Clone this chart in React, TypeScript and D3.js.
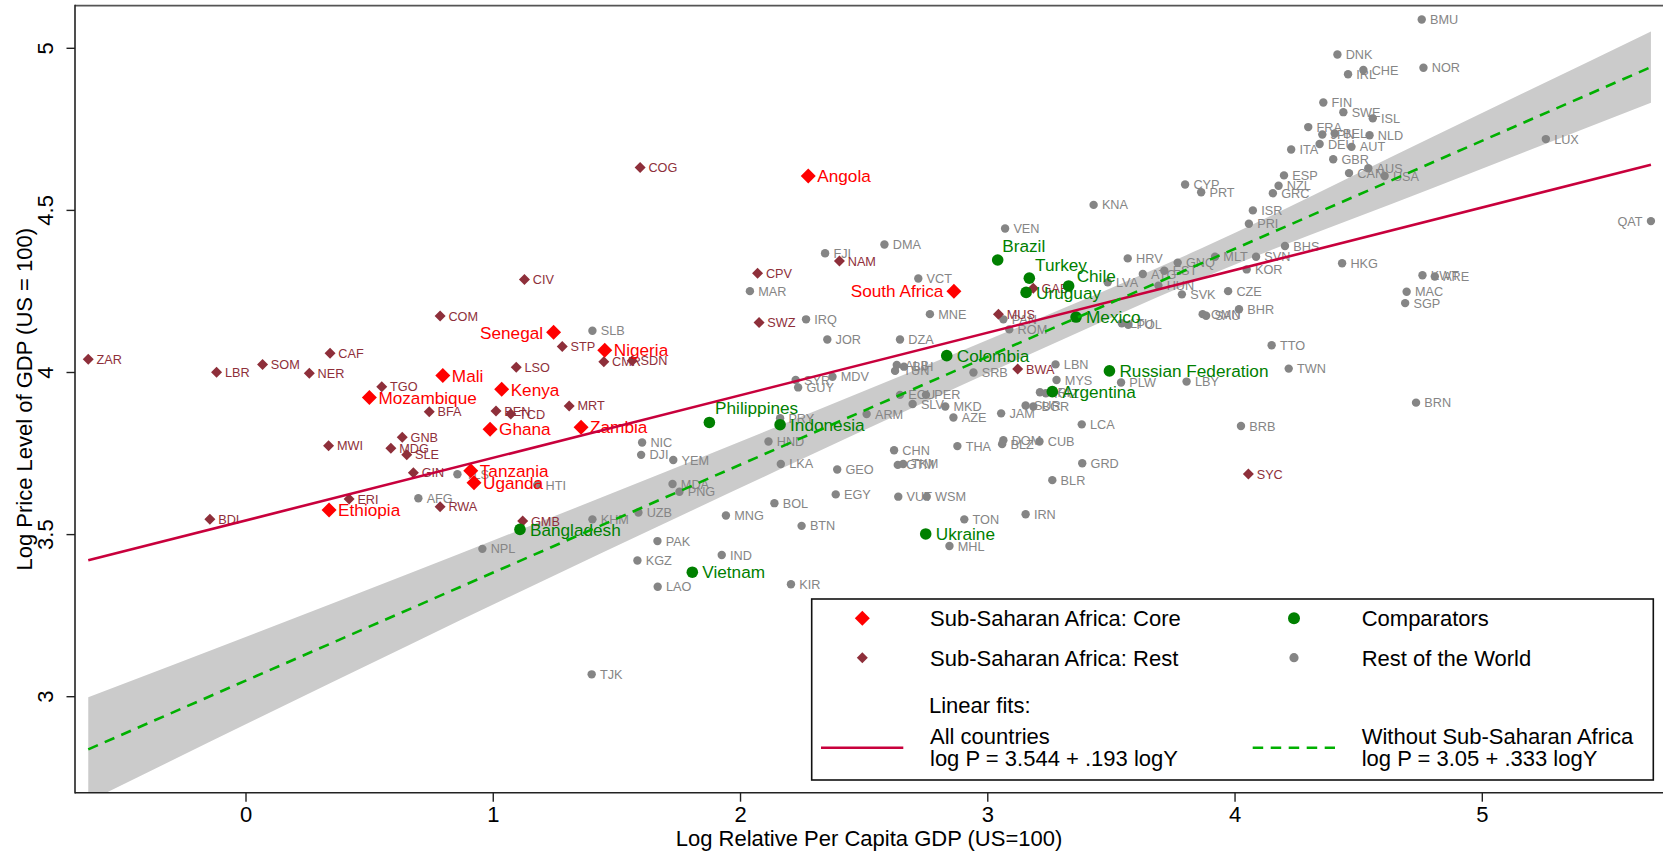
import React from "react";
import * as d3 from "d3";

// Sub-Saharan Africa: core countries (log relative GDP per capita, log price level)
const coreNames = ["Angola", "South Africa", "Senegal", "Nigeria", "Mali", "Kenya", "Mozambique", "Ghana", "Zambia", "Tanzania", "Uganda", "Ethiopia"];
const coreLogY = [2.274, 2.863, 1.244, 1.451, 0.796, 1.034, 0.499, 0.987, 1.355, 0.909, 0.922, 0.336];
const coreLogP = [4.606, 4.251, 4.124, 4.069, 3.991, 3.948, 3.923, 3.825, 3.831, 3.697, 3.66, 3.576];

// Sub-Saharan Africa: the rest
const ssaRestNames = ["ZAR", "LBR", "SOM", "NER", "CAF", "COM", "CIV", "COG", "CPV", "SWZ", "NAM", "GAB", "MUS", "BWA", "SYC", "STP", "CMR", "SDN", "LSO", "MRT", "TGO", "BFA", "BEN", "TCD", "GNB", "MDG", "SLE", "MWI", "GIN", "ERI", "RWA", "BDI", "GMB"];
const ssaRestLogY = [-0.638, -0.119, 0.067, 0.256, 0.34, 0.785, 1.126, 1.594, 2.069, 2.075, 2.4, 3.184, 3.043, 3.121, 4.054, 1.279, 1.447, 1.562, 1.093, 1.307, 0.549, 0.741, 1.011, 1.071, 0.632, 0.586, 0.65, 0.334, 0.677, 0.417, 0.785, -0.146, 1.119];
const ssaRestLogP = [4.041, 4.001, 4.025, 3.998, 4.059, 4.174, 4.287, 4.632, 4.306, 4.154, 4.344, 4.26, 4.18, 4.011, 3.687, 4.08, 4.033, 4.036, 4.016, 3.897, 3.956, 3.879, 3.881, 3.872, 3.8, 3.766, 3.746, 3.774, 3.691, 3.61, 3.586, 3.547, 3.542];

// Comparator countries
const compNames = ["Brazil", "Turkey", "Chile", "Uruguay", "Mexico", "Colombia", "Russian Federation", "Argentina", "Philippines", "Indonesia", "Bangladesh", "Ukraine", "Vietnam"];
const compLogY = [3.04, 3.168, 3.327, 3.155, 3.357, 2.834, 3.492, 3.261, 1.874, 2.16, 1.108, 2.749, 1.805];
const compLogP = [4.347, 4.291, 4.267, 4.247, 4.171, 4.052, 4.005, 3.941, 3.846, 3.839, 3.516, 3.502, 3.384];

// Rest of the world
const worldNames = ["BMU", "DNK", "CHE", "IRL", "NOR", "FIN", "SWE", "ISL", "FRA", "JPN", "BEL", "NLD", "DEU", "AUT", "ITA", "GBR", "AUS", "CAN", "USA", "ESP", "NZL", "GRC", "ISR", "PRI", "LUX", "QAT", "CYP", "PRT", "KNA", "VEN", "DMA", "FJI", "VCT", "BHS", "MLT", "SVN", "KOR", "HKG", "KWT", "ARE", "MAC", "SGP", "HRV", "GNQ", "ATG", "EST", "LVA", "HUN", "SVK", "CZE", "BHR", "OMN", "SAU", "LTU", "POL", "TTO", "TWN", "BRN", "BRB", "LBY", "PLW", "LBN", "MYS", "CRI", "KAZ", "SUR", "BGR", "LCA", "JAM", "AZE", "MKD", "SLV", "ECU", "PER", "ARM", "SRB", "ALB", "BIH", "TUN", "DZA", "JOR", "IRQ", "MNE", "PAN", "ROM", "MAR", "MDV", "SYR", "GUY", "PRY", "HND", "LKA", "NIC", "DJI", "YEM", "MDA", "PNG", "UZB", "KHM", "MNG", "BOL", "BTN", "GEO", "EGY", "CHN", "GTM", "TKM", "THA", "DOM", "BLZ", "CUB", "GRD", "BLR", "VUT", "WSM", "IRN", "TON", "MHL", "KIR", "PAK", "KGZ", "IND", "LAO", "NPL", "TJK", "SLB", "AFG", "HTI", "TLS"];
const worldLogY = [4.755, 4.414, 4.519, 4.457, 4.762, 4.357, 4.438, 4.557, 4.296, 4.353, 4.403, 4.544, 4.342, 4.471, 4.227, 4.397, 4.539, 4.461, 4.605, 4.198, 4.176, 4.153, 4.072, 4.056, 5.257, 5.682, 3.798, 3.863, 3.428, 3.07, 2.582, 2.342, 2.719, 4.202, 3.919, 4.085, 4.047, 4.433, 4.758, 4.808, 4.694, 4.688, 3.566, 3.768, 3.627, 3.714, 3.485, 3.69, 3.785, 3.972, 4.016, 3.869, 3.883, 3.542, 3.568, 4.148, 4.217, 4.732, 4.024, 3.804, 3.539, 3.274, 3.278, 3.211, 3.235, 3.153, 3.184, 3.38, 3.054, 2.861, 2.828, 2.696, 2.645, 2.75, 2.51, 2.942, 2.632, 2.661, 2.625, 2.645, 2.351, 2.265, 2.766, 3.063, 3.087, 2.038, 2.372, 2.223, 2.233, 2.16, 2.113, 2.163, 1.602, 1.598, 1.728, 1.725, 1.753, 1.587, 1.401, 1.941, 2.137, 2.247, 2.391, 2.385, 2.621, 2.636, 2.658, 2.877, 3.063, 3.058, 3.209, 3.382, 3.261, 2.638, 2.753, 3.153, 2.905, 2.845, 2.204, 1.664, 1.583, 1.924, 1.665, 0.956, 1.398, 1.401, 0.697, 1.178, 0.855];
const worldLogP = [5.089, 4.981, 4.933, 4.92, 4.94, 4.833, 4.803, 4.784, 4.757, 4.734, 4.737, 4.732, 4.705, 4.696, 4.688, 4.658, 4.63, 4.615, 4.606, 4.608, 4.576, 4.553, 4.5, 4.459, 4.72, 4.467, 4.58, 4.556, 4.517, 4.444, 4.395, 4.368, 4.29, 4.39, 4.357, 4.357, 4.318, 4.337, 4.3, 4.296, 4.249, 4.214, 4.352, 4.339, 4.304, 4.314, 4.278, 4.268, 4.241, 4.251, 4.195, 4.18, 4.175, 4.152, 4.147, 4.084, 4.012, 3.907, 3.835, 3.972, 3.969, 4.025, 3.977, 3.939, 3.936, 3.898, 3.895, 3.84, 3.874, 3.861, 3.895, 3.903, 3.931, 3.931, 3.872, 4.0, 4.023, 4.018, 4.005, 4.102, 4.102, 4.164, 4.18, 4.164, 4.133, 4.251, 3.987, 3.977, 3.954, 3.859, 3.787, 3.718, 3.784, 3.746, 3.73, 3.656, 3.632, 3.568, 3.547, 3.559, 3.597, 3.527, 3.701, 3.624, 3.76, 3.715, 3.718, 3.773, 3.791, 3.779, 3.787, 3.72, 3.668, 3.617, 3.617, 3.563, 3.547, 3.465, 3.347, 3.48, 3.42, 3.437, 3.339, 3.456, 3.069, 4.129, 3.612, 3.653, 3.686];

// Linear fits: all countries, and without Sub-Saharan Africa
const fitLabels = ["All countries", "Without Sub-Saharan Africa"];
const fitIntercepts = [3.544, 3.05];
const fitSlopes = [0.193, 0.333];

// Confidence band half-width around the fit without Sub-Saharan Africa
const ciLogY = [-0.638, 0.66, 2.24, 3.1, 3.86, 4.8, 5.682];
const ciHalfWidth = [0.161, 0.11, 0.066, 0.05, 0.046, 0.079, 0.11];

// Axis ticks
const xTicks = [0, 1, 2, 3, 4, 5];
const yTicks = [3, 3.5, 4, 4.5, 5];

const FONT = "'Liberation Sans', Arial, Helvetica, sans-serif";

const diamond = (h: number) => `M0,${-h}L${h},0L0,${h}L${-h},0Z`;

type Place = { dx: number; dy: number; anchor: "start" | "end" };
// Label placement for markers whose label is not to the right
const placement: Record<string, Place> = {
  Senegal: { dx: -10.5, dy: 6.2, anchor: "end" },
  "South Africa": { dx: -10.5, dy: 6.2, anchor: "end" },
  QAT: { dx: -8.3, dy: 4.6, anchor: "end" },
  Brazil: { dx: 4.6, dy: -7.7, anchor: "start" },
  Turkey: { dx: 5.7, dy: -7.3, anchor: "start" },
  Chile: { dx: 8, dy: -4.3, anchor: "start" },
  Philippines: { dx: 5.7, dy: -8.3, anchor: "start" },
};

const fmtCoef = (v: number) => String(v).replace(/^0\./, ".");

export default function App() {
  const W = 1663;
  const H = 855;
  const frame = { left: 75, right: 1663, top: 5.7, bottom: 792.7 };

  const x = d3.scaleLinear().domain([-0.6916, 5.7308]).range([frame.left, frame.right]);
  const y = d3.scaleLinear().domain([2.7039, 5.1314]).range([frame.bottom, frame.top]);

  const allX = [...coreLogY, ...ssaRestLogY, ...compLogY, ...worldLogY];
  const [xMin, xMax] = d3.extent(allX) as [number, number];

  const fit = (i: number, v: number) => fitIntercepts[i] + fitSlopes[i] * v;

  const band = d3
    .area<number>()
    .x((v) => x(v))
    .y0((v, i) => y(fit(1, v) - ciHalfWidth[i]))
    .y1((v, i) => y(fit(1, v) + ciHalfWidth[i]))
    .curve(d3.curveMonotoneX)(ciLogY) as string;

  const fitLine = (i: number) =>
    d3
      .line<number>()
      .x((v) => x(v))
      .y((v) => y(fit(i, v)))([xMin, xMax]) as string;

  const groups = [
    { key: "world", names: worldNames, xs: worldLogY, ys: worldLogP, shape: "circle", size: 4.2, color: "#858585", fs: 12.7, dx: 8.3 },
    { key: "ssaRest", names: ssaRestNames, xs: ssaRestLogY, ys: ssaRestLogP, shape: "diamond", size: 5.5, color: "#8E2F3A", fs: 12.7, dx: 8.3 },
    { key: "comp", names: compNames, xs: compLogY, ys: compLogP, shape: "circle", size: 5.8, color: "#008000", fs: 17.2, dx: 10 },
    { key: "core", names: coreNames, xs: coreLogY, ys: coreLogP, shape: "diamond", size: 7.5, color: "#FF0000", fs: 17.2, dx: 9 },
  ];

  const redFit = "#C8003C";
  const greenFit = "#00B000";

  const legendRows = [
    { label: "Sub-Saharan Africa: Core", shape: "diamond", size: 7.5, color: "#FF0000", col: 0, cy: 618.3 },
    { label: "Comparators", shape: "circle", size: 6, color: "#008000", col: 1, cy: 618.3 },
    { label: "Sub-Saharan Africa: Rest", shape: "diamond", size: 5.5, color: "#8E2F3A", col: 0, cy: 657.7 },
    { label: "Rest of the World", shape: "circle", size: 4.6, color: "#858585", col: 1, cy: 657.7 },
  ];
  const legMarkX = [862.3, 1294];
  const legTextX = [930, 1361.7];
  const legLine = [
    [821, 903.3],
    [1252.7, 1335],
  ];

  return (
    <div style={{ position: "absolute", left: 0, top: 0 }}>
      <svg width={W} height={H} viewBox={`0 0 ${W} ${H}`} style={{ display: "block", background: "#fff", fontFamily: FONT }}>
        <rect x={0} y={0} width={W} height={H} fill="#fff" />
        <defs>
          <clipPath id="plotArea">
            <rect x={frame.left} y={frame.top} width={frame.right - frame.left} height={frame.bottom - frame.top} />
          </clipPath>
        </defs>

        {/* confidence band */}
        <path d={band} fill="#CBCBCB" stroke="none" clipPath="url(#plotArea)" />

        {/* scatter groups */}
        {groups.map((g) => (
          <g key={g.key}>
            {g.names.map((n, i) => {
              const cx = x(g.xs[i]);
              const cy = y(g.ys[i]);
              return g.shape === "circle" ? (
                <circle key={n} cx={cx} cy={cy} r={g.size} fill={g.color} />
              ) : (
                <path key={n} d={diamond(g.size)} transform={`translate(${cx},${cy})`} fill={g.color} />
              );
            })}
            {g.names.map((n, i) => {
              const cx = x(g.xs[i]);
              const cy = y(g.ys[i]);
              const p = placement[n] ?? { dx: g.dx, dy: 0.36 * g.fs, anchor: "start" };
              return (
                <text key={n} x={cx + p.dx} y={cy + p.dy} fontSize={g.fs} fill={g.color} textAnchor={p.anchor}>
                  {n}
                </text>
              );
            })}
          </g>
        ))}

        {/* fitted lines */}
        <path d={fitLine(0)} fill="none" stroke={redFit} strokeWidth={2.6} clipPath="url(#plotArea)" />
        <path d={fitLine(1)} fill="none" stroke={greenFit} strokeWidth={2.6} strokeDasharray="10.5 7.5" clipPath="url(#plotArea)" />

        {/* frame and axes */}
        <line x1={frame.left} x2={frame.right} y1={frame.top} y2={frame.top} stroke="#555" strokeWidth={1.8} />
        <line x1={frame.left} x2={frame.left} y1={frame.top - 0.9} y2={frame.bottom + 0.8} stroke="#222" strokeWidth={1.6} />
        <line x1={frame.left} x2={frame.right} y1={frame.bottom} y2={frame.bottom} stroke="#222" strokeWidth={1.6} />

        {yTicks.map((t) => (
          <g key={`y${t}`}>
            <line x1={frame.left - 8.5} x2={frame.left} y1={y(t)} y2={y(t)} stroke="#222" strokeWidth={1.4} />
            <text transform={`translate(53,${y(t)}) rotate(-90)`} textAnchor="middle" fontSize={22} fill="#000">
              {String(t)}
            </text>
          </g>
        ))}
        {xTicks.map((t) => (
          <g key={`x${t}`}>
            <line x1={x(t)} x2={x(t)} y1={frame.bottom} y2={frame.bottom + 9} stroke="#222" strokeWidth={1.4} />
            <text x={x(t)} y={821.7} textAnchor="middle" fontSize={22} fill="#000">
              {String(t)}
            </text>
          </g>
        ))}

        <text x={(frame.left + frame.right) / 2} y={846} textAnchor="middle" fontSize={22} fill="#000">
          Log Relative Per Capita GDP (US=100)
        </text>
        <text transform={`translate(32,${(frame.top + frame.bottom) / 2}) rotate(-90)`} textAnchor="middle" fontSize={22} fill="#000">
          Log Price Level of GDP (US = 100)
        </text>

        {/* legend */}
        <rect x={811.7} y={599} width={841.6} height={181} fill="#fff" stroke="#111" strokeWidth={1.6} />
        {legendRows.map((r) => (
          <g key={r.label}>
            {r.shape === "circle" ? (
              <circle cx={legMarkX[r.col]} cy={r.cy} r={r.size} fill={r.color} />
            ) : (
              <path d={diamond(r.size)} transform={`translate(${legMarkX[r.col]},${r.cy})`} fill={r.color} />
            )}
            <text x={legTextX[r.col]} y={r.cy + 7.9} fontSize={22} fill="#000">
              {r.label}
            </text>
          </g>
        ))}
        <text x={929} y={712.7} fontSize={22} fill="#000">
          Linear fits:
        </text>
        {fitLabels.map((lab, i) => (
          <g key={lab}>
            <line
              x1={legLine[i][0]}
              x2={legLine[i][1]}
              y1={747.7}
              y2={747.7}
              stroke={i === 0 ? redFit : greenFit}
              strokeWidth={2.6}
              strokeDasharray={i === 0 ? undefined : "10.5 7.5"}
            />
            <text x={legTextX[i]} y={744} fontSize={22} fill="#000">
              {lab}
            </text>
            <text x={legTextX[i]} y={766} fontSize={22} fill="#000">
              {`log P = ${fitIntercepts[i]} + ${fmtCoef(fitSlopes[i])} logY`}
            </text>
          </g>
        ))}
      </svg>
    </div>
  );
}
